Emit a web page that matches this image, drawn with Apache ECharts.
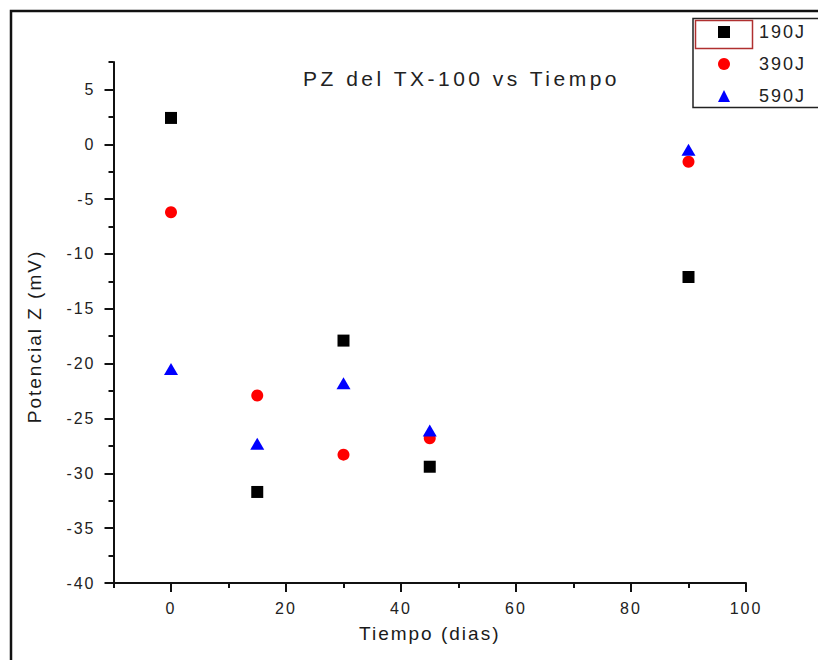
<!DOCTYPE html>
<html>
<head>
<meta charset="utf-8">
<script src="https://cdn.jsdelivr.net/npm/echarts@6/dist/echarts.min.js"></script>
<style>
html, body { margin: 0; padding: 0; background: #fff; }
#main { width: 818px; height: 660px; }
</style>
</head>
<body>
<div id="main"></div>
<script>
// Potencial Z vs tiempo
var days = [0, 15, 30, 45, 90];
var pz190 = [2.4, -31.7, -17.9, -29.4, -12.1];
var pz390 = [-6.2, -22.9, -28.3, -26.8, -1.6];
var pz590 = [-20.5, -27.3, -21.8, -26.1, -0.5];
var seriesNames = ['190J', '390J', '590J'];

var xMajorTicks = [0, 20, 40, 60, 80, 100];
var xMinorTicks = [-10, 10, 30, 50, 70, 90];
var yMajorTicks = [-40, -35, -30, -25, -20, -15, -10, -5, 0, 5];
var yMinorTicks = [-37.5, -32.5, -27.5, -22.5, -17.5, -12.5, -7.5, -2.5, 2.5, 7.5];

var titleText = 'PZ del TX-100 vs Tiempo';
var font = 'Liberation Sans, Arial, sans-serif';
var ink = '#111';

function pairs(xs, ys) {
  return xs.map(function (x, i) { return [x, ys[i]]; });
}

var chart = echarts.init(document.getElementById('main'), null, { renderer: 'svg' });

var xBase = { type: 'value', min: -10, max: 100, splitLine: { show: false } };
var yBase = { type: 'value', min: -40, max: 7.5, splitLine: { show: false } };

chart.setOption({
  animation: false,
  backgroundColor: '#fff',
  title: {
    text: titleText,
    left: 303,
    top: 68,
    padding: 0,
    textStyle: { fontSize: 21, fontWeight: 'normal', color: '#222', fontFamily: font }
  },
  legend: {
    orient: 'vertical',
    left: 718,
    top: 23,
    padding: 0,
    itemWidth: 12,
    itemHeight: 12,
    itemGap: 14,
    data: [
      { name: seriesNames[0], icon: 'rect' },
      { name: seriesNames[1], icon: 'circle' },
      { name: seriesNames[2], icon: 'triangle' }
    ],
    textStyle: { fontSize: 18, color: '#222', fontFamily: font, lineHeight: 14, padding: [0, 0, 0, 24] }
  },
  grid: { left: 113.5, right: 72, top: 62, bottom: 77, containLabel: false },
  xAxis: [
    Object.assign({}, xBase, {
      position: 'bottom',
      name: 'Tiempo (dias)',
      nameLocation: 'middle',
      nameGap: 41,
      nameTextStyle: { fontSize: 19, color: '#1a1a1a', fontFamily: font },
      axisLine: { onZero: false, lineStyle: { color: ink, width: 2 } },
      axisTick: { customValues: xMajorTicks, length: 9, lineStyle: { color: ink, width: 2 } },
      axisLabel: { customValues: xMajorTicks, margin: 17, fontSize: 16, color: '#222', fontFamily: font }
    }),
    Object.assign({}, xBase, {
      position: 'bottom',
      axisLine: { show: false, onZero: false },
      axisTick: { customValues: xMinorTicks, length: 5, lineStyle: { color: ink, width: 2 } },
      axisLabel: { show: false }
    })
  ],
  yAxis: [
    Object.assign({}, yBase, {
      position: 'left',
      name: 'Potencial Z (mV)',
      nameLocation: 'middle',
      nameGap: 70,
      nameTextStyle: { fontSize: 19, color: '#1a1a1a', fontFamily: font, padding: [0, 28, 0, 0] },
      axisLine: { onZero: false, lineStyle: { color: ink, width: 2 } },
      axisTick: { customValues: yMajorTicks, length: 9, lineStyle: { color: ink, width: 2 } },
      axisLabel: { customValues: yMajorTicks, margin: 18, fontSize: 16, color: '#222', fontFamily: font }
    }),
    Object.assign({}, yBase, {
      position: 'left',
      axisLine: { show: false, onZero: false },
      axisTick: { customValues: yMinorTicks, length: 5, lineStyle: { color: ink, width: 2 } },
      axisLabel: { show: false }
    })
  ],
  graphic: [
    { type: 'rect', silent: true, shape: { x: 11, y: 11, width: 840, height: 680 },
      style: { fill: 'none', stroke: '#111', lineWidth: 2.5 } },
    { type: 'rect', silent: true, shape: { x: 693, y: 18.5, width: 140, height: 89 },
      style: { fill: 'none', stroke: '#222', lineWidth: 1.5 } },
    { type: 'rect', silent: true, shape: { x: 695.5, y: 20.5, width: 57, height: 28 },
      style: { fill: 'none', stroke: '#b03030', lineWidth: 1.5 } }
  ],
  series: [
    { name: seriesNames[0], type: 'scatter', symbol: 'rect', symbolSize: 12,
      itemStyle: { color: '#000', opacity: 1 }, data: pairs(days, pz190) },
    { name: seriesNames[1], type: 'scatter', symbol: 'circle', symbolSize: 12,
      itemStyle: { color: '#ff0000', opacity: 1 }, data: pairs(days, pz390) },
    { name: seriesNames[2], type: 'scatter', symbol: 'triangle', symbolSize: [14, 12],
      itemStyle: { color: '#0000ff', opacity: 1 }, data: pairs(days, pz590) }
  ]
});

// Origin draws its text with wide letter spacing
function spaceOut() {
  document.querySelectorAll('#main text').forEach(function (t) {
    t.setAttribute('letter-spacing', t.textContent === titleText ? 3.5 : 2);
  });
}
spaceOut();
chart.on('finished', spaceOut);
</script>
</body>
</html>
